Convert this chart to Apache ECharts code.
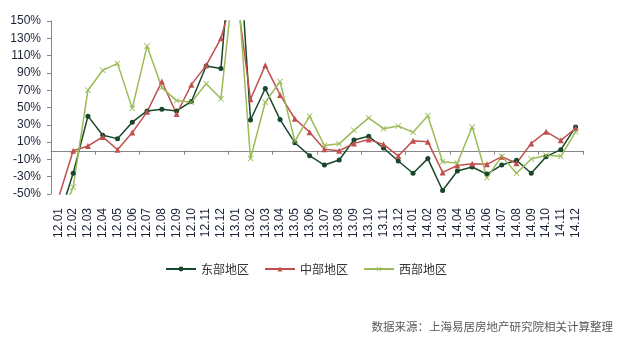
<!DOCTYPE html>
<html>
<head>
<meta charset="utf-8">
<script src="https://cdn.jsdelivr.net/npm/echarts@6/dist/echarts.min.js"></script>
<style>
html,body{margin:0;padding:0;background:#fff;}
#chart{width:621px;height:344px;}
</style>
</head>
<body>
<div id="chart"></div>
<script>
const categories = ['12.01','12.02','12.03','12.04','12.05','12.06','12.07','12.08','12.09','12.10','12.11','12.12',
  '13.01','13.02','13.03','13.04','13.05','13.06','13.07','13.08','13.09','13.10','13.11','13.12',
  '14.01','14.02','14.03','14.04','14.05','14.06','14.07','14.08','14.09','14.10','14.11','14.12'];
const eastValues = [-80, -26, 40, 18, 14, 33, 46, 48, 46, 57, 98, 95,
  300, 35.5, 72, 36, 9.3, -5.7, -16.5, -10.7, 12.4, 16.7, 3.2, -11.8,
  -26, -9.1, -46, -23.4, -18.8, -27, -16.5, -11, -26, -6.8, 1.3, 27.5];
const centralValues = [-55, 0, 5.5, 16, 1.2, 21, 45, 80, 42.5, 76.4, 98.7, 130,
  190, 59.5, 98.7, 64.5, 37, 21.5, 1.7, 0, 8.5, 12.9, 7.4, -6,
  11.7, 10.5, -25, -17, -15, -15.7, -6.8, -14.5, 8.5, 22, 12, 26];
const westValues = [-84, -42, 70, 93, 101, 49, 121, 73, 58, 56, 77.5, 60,
  220, -9, 56, 80, 11, 40, 6, 8, 23.6, 38, 25.5, 28.6,
  21.3, 40.5, -12.6, -14.2, 27.5, -31, -6.5, -26, -9.5, -5.3, -6.5, 21.7];
const seriesNames = ['东部地区', '中部地区', '西部地区'];
const sourceText = '数据来源：上海易居房地产研究院相关计算整理';

const latin = '"Liberation Sans", Arial, "Noto Sans CJK SC", sans-serif';
const cjk = '"Noto Sans CJK SC", "Liberation Sans", sans-serif';
const crossPath = 'path://M0,1 L1,0 L5,4 L9,0 L10,1 L6,5 L10,9 L9,10 L5,6 L1,10 L0,9 L4,5 Z';

const chart = echarts.init(document.getElementById('chart'), null, {renderer: 'canvas'});
chart.setOption({
  animation: false,
  backgroundColor: '#fff',
  grid: {left: 51, right: 38, top: 21, bottom: 150, containLabel: false},
  xAxis: [{
    type: 'category', data: categories, position: 'bottom', boundaryGap: true,
    axisLine: {onZero: true, lineStyle: {color: '#868686', width: 1}},
    axisTick: {show: true, length: 4, alignWithLabel: false, lineStyle: {color: '#868686'}},
    axisLabel: {show: false},
    splitLine: {show: false}
  }, {
    type: 'category', data: categories, position: 'bottom', boundaryGap: true,
    axisLine: {show: false, onZero: false},
    axisTick: {show: false},
    axisLabel: {show: true, rotate: 90, interval: 0, margin: 14, fontSize: 12, fontFamily: latin, color: '#1a2236'},
    splitLine: {show: false}
  }],
  yAxis: {
    type: 'value', min: -50, max: 150, interval: 20,
    axisLine: {show: true, lineStyle: {color: '#868686', width: 1}},
    axisTick: {show: true, length: 4, lineStyle: {color: '#868686'}},
    axisLabel: {formatter: '{value}%', fontSize: 12, fontFamily: latin, color: '#1a2236', margin: 10},
    splitLine: {show: false}
  },
  legend: {
    left: 160, top: 258, itemWidth: 30, itemHeight: 6, itemGap: 15,
    textStyle: {fontSize: 12, fontFamily: cjk, color: '#333'},
    data: seriesNames
  },
  graphic: [{
    type: 'text', right: 8, top: 321,
    style: {text: sourceText, fontSize: 11.5, fontFamily: cjk, fill: '#595959'}
  }],
  series: [{
    name: seriesNames[0], type: 'line', data: eastValues, xAxisIndex: 0,
    symbol: 'circle', symbolSize: 5, clip: true,
    lineStyle: {color: '#17472a', width: 1.5},
    itemStyle: {color: '#17472a'}
  }, {
    name: seriesNames[1], type: 'line', data: centralValues, xAxisIndex: 0,
    symbol: 'triangle', symbolSize: 6, clip: true,
    lineStyle: {color: '#c0504d', width: 1.5},
    itemStyle: {color: '#c0504d'}
  }, {
    name: seriesNames[2], type: 'line', data: westValues, xAxisIndex: 0,
    symbol: crossPath, symbolSize: 6, clip: true,
    lineStyle: {color: '#9bbb59', width: 1.5},
    itemStyle: {color: '#9bbb59'}
  }]
});
</script>
</body>
</html>
